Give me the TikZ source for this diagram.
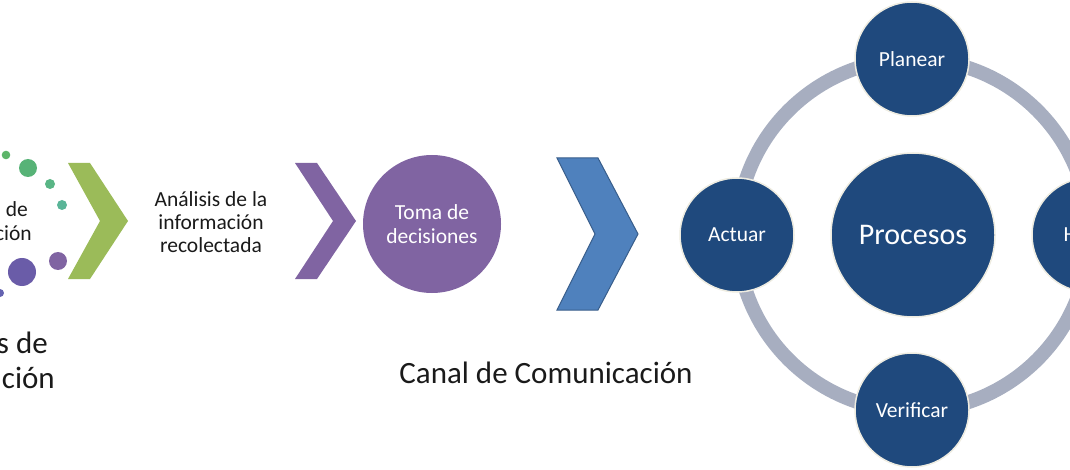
\documentclass[tikz,border=0pt]{standalone}
\usepackage{fontspec}
\setmainfont{Carlito}
\newcommand\fsz[2]{\fontsize{#1}{#2}\selectfont}
\definecolor{dblue}{HTML}{1F497D}
\definecolor{cream}{HTML}{EEECE1}
\definecolor{ringc}{HTML}{A7AEC0}
\definecolor{purp}{HTML}{8064A2}
\definecolor{grn}{HTML}{9BBB59}
\definecolor{bluec}{HTML}{4F81BD}
\definecolor{bluedk}{HTML}{385D8A}
\definecolor{txtc}{HTML}{1A1A1A}
\definecolor{dotA}{HTML}{5DB56A}
\definecolor{dotB}{HTML}{57B377}
\definecolor{dotC}{HTML}{59B585}
\definecolor{dotD}{HTML}{5AB598}
\definecolor{dotE}{HTML}{8064A2}
\definecolor{dotF}{HTML}{6A5CA8}
\definecolor{dotG}{HTML}{6462B0}
\begin{document}
\begin{tikzpicture}[x=1pt,y=-1pt,
  pdca/.style={circle, fill=dblue, draw=cream, line width=1.5pt, minimum size=114pt, inner sep=0pt, text=white, font=\fsz{21.5}{24}},
  lbl/.style={inner sep=0pt, text=txtc},
  chev/.style={draw=none}
]
\useasboundingbox (0,0) rectangle (1070,470);
\clip (0,0) rectangle (1070,470);
% left dots
\fill[dotA] (6,155) circle[radius=4.3pt];
\fill[dotB] (28,168) circle[radius=9pt];
\fill[dotC] (50,184) circle[radius=5pt];
\fill[dotD] (62,205) circle[radius=5pt];
\fill[dotE] (58,261) circle[radius=9pt];
\fill[dotF] (22,272) circle[radius=14pt];
\fill[dotG] (0,293) circle[radius=4pt];
% left text fragments
\node[lbl, anchor=base east, font=\fsz{21.5}{24}] (frA) at (28,217) {de};
\node[lbl, anchor=base east, font=\fsz{21.5}{24}] (frB) at (32,241) {ción};
\node[lbl, anchor=base east, font=\fsz{31}{35}] (frC) at (48,353) {s de};
\node[lbl, anchor=base east, font=\fsz{31}{35}] (frD) at (55,388) {ación};
% chevrons
\fill[grn] (68,163) -- (90,163) -- (128,221) -- (90,279) -- (68,279) -- (100,221) -- cycle;
\fill[purp] (295,163) -- (317,163) -- (356,221) -- (317,279) -- (295,279) -- (333,221) -- cycle;
\filldraw[fill=bluec, draw=bluedk, line width=1pt] (557,158) -- (598,158) -- (638,234) -- (598,310) -- (557,310) -- (595,234) -- cycle;
% middle texts
\node[lbl, align=center, font=\fsz{21.5}{23.3}] (ana) at (211,222) {Análisis de la\\información\\recolectada};
\node[circle, fill=purp, minimum size=138pt, inner sep=0pt, text=white, align=center, font=\fsz{21.5}{24}] (toma) at (432,224) {Toma de\\decisiones};
\node[lbl, anchor=base, font=\fsz{31}{35}] (canal) at (546,383) {Canal de Comunicación};
% ring
\draw[ringc, line width=14pt] (913,235) circle[radius=176pt];
\node[pdca] (plan) at (912,59) {Planear};
\node[pdca] (hacer) at (1089,235) {Hacer};
\node[pdca] (verif) at (912,410) {Verificar};
\node[pdca] (act) at (737,235) {Actuar};
\node[pdca, minimum size=164pt, font=\fsz{30}{34}] (proc) at (913,235) {Procesos};
\end{tikzpicture}
\end{document}
